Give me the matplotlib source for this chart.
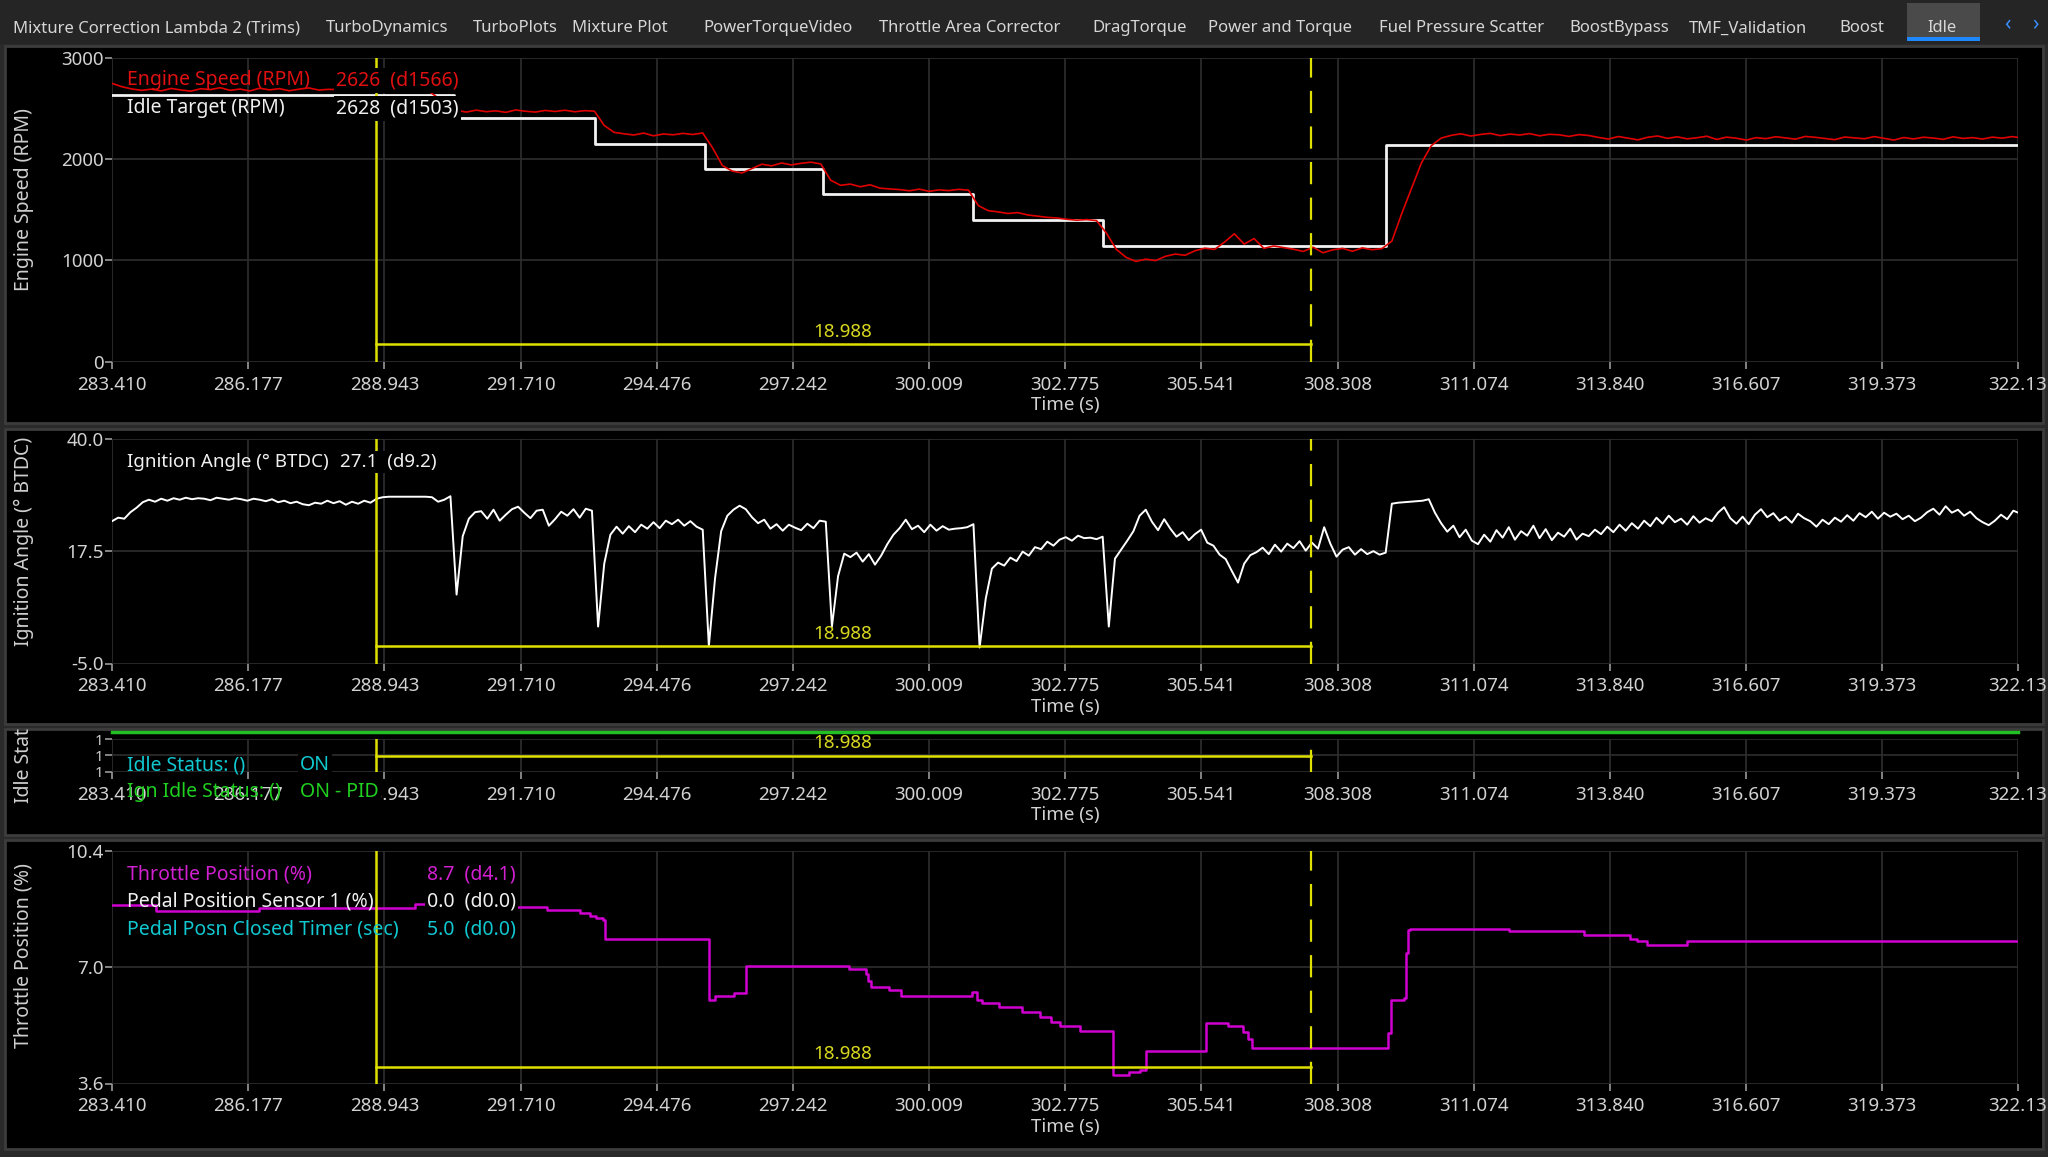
import numpy as np
import matplotlib
matplotlib.use("Agg")
import matplotlib.pyplot as plt
from matplotlib.patches import Rectangle

plt.rcParams['font.family'] = ['Noto Sans', 'DejaVu Sans']

# ---------------- data ----------------
TABS = ["Mixture Correction Lambda 2 (Trims)", "TurboDynamics", "TurboPlots", "Mixture Plot",
        "PowerTorqueVideo", "Throttle Area Corrector", "DragTorque", "Power and Torque",
        "Fuel Pressure Scatter", "BoostBypass", "TMF_Validation", "Boost", "Idle"]
SELECTED_TAB = "Idle"

X_TICKS = [283.410, 286.177, 288.943, 291.710, 294.476, 297.242, 300.009, 302.775,
           305.541, 308.308, 311.074, 313.840, 316.607, 319.373, 322.13]
X_TICK_LABELS = ["283.410", "286.177", "288.943", "291.710", "294.476", "297.242", "300.009",
                 "302.775", "305.541", "308.308", "311.074", "313.840", "316.607", "319.373", "322.13"]
T_START, T_END = 283.41, 322.13

CURSOR_A = 288.770
CURSOR_DELTA = 18.988

# Engine speed (RPM), sampled every 0.2 s from T_START
RPM_DT = 0.2
ENGINE_SPEED = [
    2745, 2712, 2690, 2676, 2688, 2671, 2695, 2680, 2668, 2692, 2684, 2702, 2676, 2689, 2670,
    2697, 2681, 2693, 2672, 2688, 2700, 2679, 2686,
    2683, 2690, 2675, 2688, 2679, 2692, 2684, 2676, 2690, 2681, 2610,
    2495, 2478, 2462, 2481, 2466, 2474, 2459, 2483, 2470, 2462, 2478, 2468, 2480, 2465, 2476, 2471,
    2330, 2262, 2248, 2236, 2255, 2228, 2246, 2238, 2252, 2241, 2256,
    2110, 1935, 1880, 1862, 1905, 1948, 1932, 1960, 1941, 1957, 1968, 1950,
    1790, 1740, 1752, 1726, 1745, 1712, 1704, 1698, 1686, 1702, 1681, 1695, 1688, 1700, 1692,
    1540, 1490, 1478, 1462, 1471, 1448, 1436, 1424, 1418, 1405, 1396, 1402, 1392,
    1270, 1110, 1030, 990, 1012, 998, 1040, 1062, 1050, 1095, 1120, 1108, 1180, 1262, 1160,
    1215, 1118, 1142, 1126, 1110, 1088, 1130, 1075, 1104, 1118, 1090, 1123, 1105, 1116,
    1190, 1460, 1710, 1960, 2130, 2205,
    2232, 2248, 2226, 2241, 2252, 2230, 2245, 2236, 2250, 2228, 2243, 2238, 2222, 2240, 2231,
    2212, 2196, 2221, 2205, 2188, 2214, 2226, 2203, 2218, 2198, 2209, 2224, 2192, 2215, 2204,
    2186, 2210, 2200, 2219, 2207, 2195, 2222, 2213, 2201, 2190, 2216, 2208, 2199, 2220, 2203,
    2186, 2211, 2197, 2214, 2206, 2193, 2218, 2202, 2210, 2196, 2215, 2205, 2220, 2208,
]

# Idle target (RPM), step changes
IDLE_TARGET_T = [283.41, 290.35, 293.22, 295.45, 297.85, 300.90, 303.55, 309.30, 322.13]
IDLE_TARGET_V = [2630, 2400, 2145, 1900, 1650, 1395, 1140, 2140, 2140]

# Ignition angle (deg BTDC), sampled every 0.125 s from T_START
IGN_DT = 0.125
IGNITION = [
    23.5, 24.2, 24.0, 25.3, 26.2, 27.3, 27.8, 27.4, 28.0,
    27.6, 28.1, 27.8, 28.2, 27.9, 28.1, 28.0, 27.7, 28.2, 28.0, 27.8, 28.1, 27.9, 27.6, 28.0,
    27.8, 27.5, 27.9, 27.3, 27.6, 27.1, 27.4, 26.9, 26.7, 27.2, 27.0, 27.6, 27.1, 27.5, 26.8,
    27.4, 27.0, 27.6, 27.2,
    28.0, 28.3, 28.4, 28.4, 28.4, 28.4, 28.4, 28.4, 28.4, 28.3, 27.4, 27.8, 28.5,
    8.8,
    20.5, 24.0, 25.3,
    25.5, 24.0, 25.8, 23.6, 24.8, 25.9, 26.4, 25.2, 24.1, 25.6, 25.8, 22.6, 23.9, 25.4, 24.6,
    25.9, 24.2, 26.0, 25.6,
    2.4,
    15.0, 20.8, 22.4,
    21.0, 22.5, 21.3, 22.8, 22.0, 23.3, 22.1, 23.6, 22.9, 23.8, 22.6, 23.5, 22.4, 21.8,
    -1.5,
    12.0, 21.5, 24.6,
    25.8, 26.6, 25.9, 24.3, 23.1, 23.8, 22.0, 22.9, 21.6, 22.8, 22.2, 21.7, 23.0, 22.1, 23.6, 23.4,
    2.4,
    12.5, 17.0, 16.3,
    17.2, 15.4, 16.9, 14.8, 16.6, 18.9, 20.8, 22.1, 23.8, 21.9, 22.6, 21.3, 22.8, 21.6, 22.5,
    21.8, 22.0, 22.1, 22.3, 22.9,
    -1.8,
    8.0, 14.0, 15.2,
    14.6, 16.2, 15.5, 17.4, 16.6, 18.3, 17.9, 19.4, 18.6, 19.8, 20.3, 19.6, 20.6, 20.1, 20.2,
    19.9, 20.4,
    2.4,
    16.0, 17.8, 19.6,
    21.5, 24.6, 25.8, 23.4, 21.7, 23.9, 22.0, 20.4, 21.3, 19.7, 20.9, 21.8, 19.2, 18.6, 16.8,
    15.9, 13.5, 11.2, 15.0, 16.7, 17.3, 18.2, 16.9, 18.8, 17.4, 19.0, 18.1, 19.5, 17.6,
    19.2, 18.0, 22.3, 19.0, 16.4, 17.8, 18.3, 16.8, 17.9, 16.9, 17.5, 16.8, 17.2,
    27.0, 27.2, 27.3, 27.4, 27.5, 27.6, 27.9, 25.2, 23.1,
    21.4, 22.6, 20.3, 21.8, 19.6, 18.9, 20.8, 19.4, 21.7, 20.2, 22.3, 19.8, 21.5, 20.6, 22.6,
    20.1, 21.9, 19.7, 21.2, 20.4, 22.0, 19.8, 21.0, 20.5,
    21.8, 20.9, 22.4, 21.3, 22.8, 21.6, 23.1, 22.0, 23.6, 22.5, 24.2, 23.0, 24.6, 23.3, 24.0,
    22.8, 24.5, 23.2, 24.1, 23.5, 25.2, 26.3, 24.1, 23.0, 24.4, 22.9, 24.8, 25.9, 24.3, 25.1,
    23.6, 24.4, 23.2, 25.0, 24.1, 23.5, 22.4, 23.8, 22.9, 24.2, 23.4, 24.7, 23.6, 25.1, 24.3,
    25.4, 24.0, 25.2, 24.4, 25.0, 23.9, 24.6, 23.5, 24.2, 25.3, 26.0, 24.8, 26.5, 25.2, 25.8,
    24.6, 25.4, 24.1, 23.3, 22.7, 23.6, 24.8, 23.9, 25.6, 25.1,
]

# Throttle position (%), step changes
THROTTLE_T = [283.41, 284.30, 286.39, 289.56, 290.68, 292.25, 292.92, 293.12, 293.24, 293.38,
              293.42, 295.54, 295.66, 296.05, 296.28, 298.38, 298.73, 298.77, 298.83, 299.20,
              299.44, 300.88, 300.98, 301.09, 301.43, 301.90, 302.27, 302.49, 302.67, 303.08,
              303.75, 304.06, 304.30, 304.42, 305.64, 306.09, 306.39, 306.49, 306.57, 309.33,
              309.39, 309.66, 309.70, 309.74, 309.78, 311.79, 313.32, 314.24, 314.40, 314.60,
              315.41, 322.13]
THROTTLE_V = [8.82, 8.64, 8.72, 8.85, 8.75, 8.66, 8.58, 8.50, 8.44, 8.37,
              7.83, 6.04, 6.16, 6.23, 7.04, 6.94, 6.80, 6.60, 6.43, 6.33,
              6.16, 6.26, 6.05, 5.96, 5.84, 5.70, 5.55, 5.40, 5.28, 5.12,
              3.84, 3.94, 3.98, 4.56, 5.36, 5.27, 5.10, 4.90, 4.64, 5.07,
              6.04, 6.10, 7.40, 8.09, 8.12, 8.05, 7.93, 7.83, 7.76, 7.64,
              7.76, 7.76]

IGN_IDLE_STATUS = 1.0059  # drawn at top edge of the Idle Status strip

PANEL1_LEGEND = [("Engine Speed (RPM)", "2626  (d1566)", "#e01010"),
                 ("Idle Target (RPM)", "2628  (d1503)", "#f0f0f0")]
PANEL2_LEGEND = [("Ignition Angle (° BTDC)", "27.1  (d9.2)", "#f0f0f0")]
PANEL3_LEGEND = [("Idle Status: ()", "ON", "#10c8d0"),
                 ("Ign Idle Status: ()", "ON - PID", "#20d020")]
PANEL4_LEGEND = [("Throttle Position (%)", "8.7  (d4.1)", "#d020d0"),
                 ("Pedal Position Sensor 1 (%)", "0.0  (d0.0)", "#f0f0f0"),
                 ("Pedal Posn Closed Timer (sec)", "5.0  (d0.0)", "#10c8d0")]

# ---------------- figure ----------------
W, H = 2048, 1157
fig = plt.figure(figsize=(W / 100, H / 100), dpi=100, facecolor="#2a2a2a")

def fx(x):
    return x / W

def fy(y):
    return 1 - y / H

# tab bar
fig.patches.append(Rectangle((0, fy(44)), 1, 44 / H, transform=fig.transFigure,
                             facecolor="#252526", edgecolor="none", zorder=-20))
TAB_X = [13, 326, 473, 572, 703, 879, 1092, 1208, 1379, 1569, 1689, 1839, 1927]
for name, x in zip(TABS, TAB_X):
    if name == SELECTED_TAB:
        fig.patches.append(Rectangle((fx(1907), fy(41)), 73 / W, 38 / H, transform=fig.transFigure,
                                     facecolor="#4a4a4a", edgecolor="none", zorder=-19))
        fig.patches.append(Rectangle((fx(1907), fy(41)), 73 / W, 4 / H, transform=fig.transFigure,
                                     facecolor="#1e88ff", edgecolor="none", zorder=-18))
    fig.text(fx(x), fy(28.5), name, color="#d6d6d6", fontsize=12, ha="left", va="center", zorder=3)
fig.text(fx(2007), fy(25), "‹", color="#3a8eff", fontsize=15, ha="center", va="center")
fig.text(fx(2035), fy(25), "›", color="#3a8eff", fontsize=15, ha="center", va="center")

# panel frames
for (y0, y1) in [(46, 423), (429, 724), (729, 835), (840, 1149)]:
    fig.patches.append(Rectangle((fx(5), fy(y1)), 2038 / W, (y1 - y0) / H, transform=fig.transFigure,
                                 facecolor="black", edgecolor="#3c3c3c", linewidth=2, zorder=-10))

def px_axes(x0, y0, x1, y1):
    return fig.add_axes([fx(x0), fy(y1), (x1 - x0) / W, (y1 - y0) / H])

ax1 = px_axes(112, 57.5, 2018, 361.8)
ax2 = px_axes(112, 438.8, 2018, 663.5)
ax3 = px_axes(112, 739.3, 2018, 771.7)
ax4 = px_axes(112, 850.5, 2018, 1083.5)

TICK_C = "#d2d2d2"
GRID_C = "#2e2e2e"
YEL = "#e0e000"

def style(ax, yticks, ylabels, ylim, ylabel, label_y):
    ax.set_facecolor("black")
    ax.set_xlim(T_START, T_END)
    ax.set_ylim(*ylim)
    ax.set_xticks(X_TICKS)
    ax.set_xticklabels(X_TICK_LABELS)
    ax.set_yticks(yticks)
    ax.set_yticklabels(ylabels)
    for s in ax.spines.values():
        s.set_visible(False)
    ax.grid(True, color=GRID_C, linewidth=1.2)
    ax.tick_params(axis="both", colors="#9a9a9a", labelcolor=TICK_C, labelsize=13.5,
                   length=5, width=1.2)
    ax.tick_params(axis="x", pad=5)
    ax.tick_params(axis="y", pad=1)
    ax.set_xlabel("Time (s)", color=TICK_C, fontsize=13.5, labelpad=2)
    ax.set_ylabel(ylabel, color="#cfcfcf", fontsize=14)
    ax.yaxis.set_label_coords(-0.041, label_y)

style(ax1, [0, 1000, 2000, 3000], ["0", "1000", "2000", "3000"], (0, 3000),
      "Engine Speed (RPM)", 0.532)
style(ax2, [-5, 17.5, 40], ["-5.0", "17.5", "40.0"], (-5, 40),
      "Ignition Angle (° BTDC)", 0.541)
style(ax3, [0.996, 1.0, 1.004], ["1", "1", "1"], (0.996, 1.004), "Idle Stat", 0.2)
style(ax4, [3.6, 7.0, 10.4], ["3.6", "7.0", "10.4"], (3.6, 10.4),
      "Throttle Position (%)", 0.547)
ax3.tick_params(axis="y", labelsize=11)

# series
t_rpm = T_START + RPM_DT * np.arange(len(ENGINE_SPEED))
ax1.step(IDLE_TARGET_T, IDLE_TARGET_V, where="post", color="#f2f2f2", lw=2.0, zorder=3)
ax1.plot(t_rpm, ENGINE_SPEED, color="#e00000", lw=1.2, zorder=3)

t_ign = T_START + IGN_DT * np.arange(len(IGNITION))
ax2.plot(t_ign, IGNITION, color="white", lw=1.4, zorder=3)

ax3.plot([T_START, T_END], [IGN_IDLE_STATUS, IGN_IDLE_STATUS], color="#22c022", lw=2.5,
         clip_on=False, zorder=3)

ax4.step(THROTTLE_T, THROTTLE_V, where="post", color="#d000d0", lw=1.8, zorder=3)

# cursors
cursor_b = CURSOR_A + CURSOR_DELTA
for ax, yline, ylab in [(ax1, 0.0575, 0.099), (ax2, 0.0765, 0.1335),
                        (ax3, 0.5, 0.88), (ax4, 0.0695, 0.127)]:
    ax.axvline(CURSOR_A, color=YEL, lw=1.8, zorder=4)
    ax.axvline(cursor_b, color=YEL, lw=1.6, dashes=(10, 6), zorder=4)
    ax.plot([CURSOR_A, cursor_b], [yline, yline], color=YEL, lw=1.8,
            transform=ax.get_xaxis_transform(), zorder=4)
    ax.text((CURSOR_A + cursor_b) / 2, ylab, f"{CURSOR_DELTA:.3f}", color="#d8d820",
            fontsize=13.5, ha="center", va="center", transform=ax.get_xaxis_transform(), zorder=6)

# legend texts
def legend(rows, y0, dy, xval, size=14):
    for k, (name, val, col) in enumerate(rows):
        y = y0 + k * dy
        fig.text(fx(127), fy(y), name, color=col, fontsize=size, ha="left", va="center", zorder=5)
        fig.text(fx(xval), fy(y), val, color=col, fontsize=size, ha="left", va="center", zorder=7,
                 bbox=dict(facecolor="black", edgecolor="none", pad=1.5))

legend(PANEL1_LEGEND, 80.5, 28, 336)
legend(PANEL2_LEGEND, 462, 28, 340, size=13.5)
legend(PANEL3_LEGEND, 765, 27, 300)
legend(PANEL4_LEGEND, 874.5, 27.5, 427)

fig.savefig("out.png", dpi=100, facecolor=fig.get_facecolor())
